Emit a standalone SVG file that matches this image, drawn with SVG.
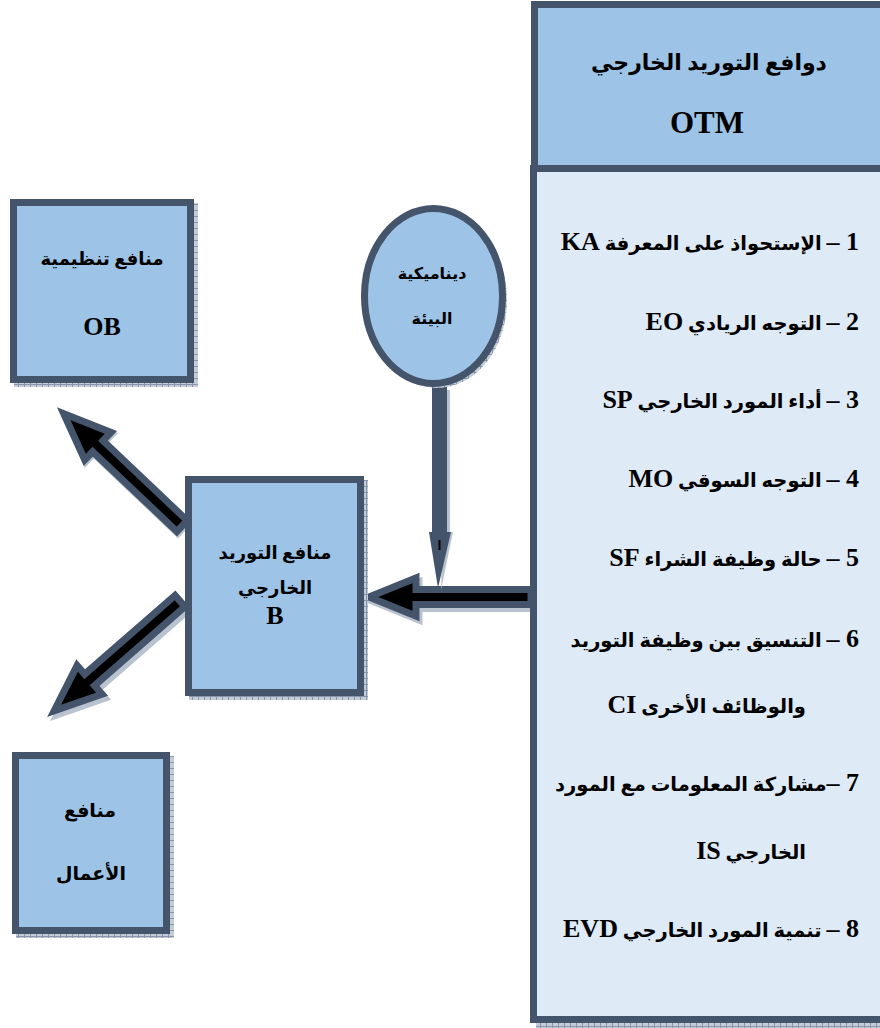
<svg xmlns="http://www.w3.org/2000/svg" width="880" height="1028" viewBox="0 0 880 1028">
<defs>
<pattern id="hatch" width="6" height="6" patternUnits="userSpaceOnUse">
<rect width="6" height="6" fill="#c3ccd8"/>
<path d="M0,0.5H6M0.5,0V6" stroke="#8796ab" stroke-width="1"/>
</pattern>
<style>
.box{fill:#9dc3e6;stroke:#44546a;stroke-width:7}
.body{fill:#deeaf6;stroke:#44546a;stroke-width:7}
.shadow{fill:url(#hatch)}
.arrow{fill:#000;stroke:#44546a;stroke-width:7;stroke-linejoin:miter}
.ashadow{fill:#b9c2cf;stroke:#b9c2cf;stroke-width:7}
text{font-family:"Liberation Serif","DejaVu Sans",serif;font-weight:bold;fill:#000}
.ar{direction:rtl}
.la{font-size:26px}
</style>
</defs>
<rect width="880" height="1028" fill="#fff"/>

<g id="connectors">
<path class="ashadow" transform="translate(534,601) rotate(180)" d="M0,-7.5L115,-7.5L115,-19L162,0L115,19L115,7.5L0,7.5Z"/>
<path class="arrow" transform="translate(531,597) rotate(180)" d="M0,-7.5L115,-7.5L115,-19L162,0L115,19L115,7.5L0,7.5Z"/>
<path class="ashadow" transform="translate(183,528) rotate(223.5)" d="M0,-7.5L116,-7.5L116,-19L163,0L116,19L116,7.5L0,7.5Z"/>
<path class="arrow" transform="translate(182,526) rotate(223.5)" d="M0,-7.5L116,-7.5L116,-19L163,0L116,19L116,7.5L0,7.5Z"/>
<path class="ashadow" transform="translate(183,605) rotate(138.9)" d="M0,-7.5L120,-7.5L120,-19L167,0L120,19L120,7.5L0,7.5Z"/>
<path class="arrow" transform="translate(180,601) rotate(138.9)" d="M0,-7.5L120,-7.5L120,-19L167,0L120,19L120,7.5L0,7.5Z"/>
<path fill="#b9c2cf" d="M447,390H450V532H453L441,590Z"/>
<path fill="#44546a" d="M432,380H447V532H451L438,588L429,532H432Z"/>
<path d="M439.5,540V550" stroke="#000" stroke-width="2"/>
</g>

<g id="otm">
<rect class="shadow" x="536" y="172" width="350" height="856"/>
<rect class="body" x="533.5" y="168.5" width="400" height="851"/>
<rect class="box" x="534.5" y="4.5" width="400" height="164"/>
<text x="709" y="70" font-size="22" text-anchor="middle" class="ar">دوافع التوريد الخارجي</text>
<text x="707" y="133" font-size="31" text-anchor="middle">OTM</text>
<g font-size="19.5">
<text class="ar" x="859" y="250" text-anchor="start"><tspan class="la">1 –</tspan> الإستحواذ على المعرفة <tspan class="la">KA</tspan></text>
<text class="ar" x="859" y="330" text-anchor="start"><tspan class="la">2 –</tspan> التوجه الريادي  <tspan class="la">EO</tspan></text>
<text class="ar" x="859" y="408" text-anchor="start"><tspan class="la">3 –</tspan> أداء المورد الخارجي <tspan class="la">SP</tspan></text>
<text class="ar" x="859" y="487" text-anchor="start"><tspan class="la">4 –</tspan> التوجه السوقي <tspan class="la">MO</tspan></text>
<text class="ar" x="859" y="566" text-anchor="start"><tspan class="la">5 –</tspan> حالة وظيفة الشراء <tspan class="la">SF</tspan></text>
<text class="ar" x="859" y="647" text-anchor="start"><tspan class="la">6 –</tspan> التنسيق بين وظيفة التوريد</text>
<text class="ar" x="806" y="713" text-anchor="start">والوظائف الأخرى <tspan class="la">CI</tspan></text>
<text class="ar" x="859" y="791" text-anchor="start"><tspan class="la">7 –</tspan>مشاركة المعلومات مع المورد</text>
<text class="ar" x="806" y="859" text-anchor="start">الخارجي <tspan class="la">IS</tspan></text>
<text class="ar" x="859" y="937" text-anchor="start"><tspan class="la">8 –</tspan> تنمية المورد الخارجي <tspan class="la">EVD</tspan></text>
</g>
</g>

<g id="ob">
<rect class="shadow" x="14" y="203" width="184" height="184"/>
<rect class="box" x="13.5" y="202.5" width="177" height="177"/>
<text class="ar" x="102" y="265" font-size="18" text-anchor="middle">منافع تنظيمية</text>
<text x="102" y="335" font-size="26" text-anchor="middle">OB</text>
</g>

<g id="business">
<rect class="shadow" x="16" y="756" width="158" height="182"/>
<rect class="box" x="15.5" y="755.5" width="151" height="175"/>
<text class="ar" x="90" y="817" font-size="19" text-anchor="middle">منافع</text>
<text class="ar" x="91" y="880" font-size="19" text-anchor="middle">الأعمال</text>
</g>

<g id="b">
<rect class="shadow" x="189" y="480" width="179" height="220"/>
<rect class="box" x="188.5" y="479.5" width="172" height="213"/>
<text class="ar" x="275" y="559" font-size="18" text-anchor="middle">منافع التوريد</text>
<text class="ar" x="275" y="594" font-size="18" text-anchor="middle">الخارجي</text>
<text x="275" y="624" font-size="26" text-anchor="middle">B</text>
</g>

<g id="env">
<ellipse cx="437" cy="300" rx="70" ry="88" fill="url(#hatch)"/>
<ellipse cx="433.5" cy="296" rx="69" ry="87.5" fill="#9dc3e6" stroke="#44546a" stroke-width="7"/>
<text class="ar" x="432" y="279" font-size="16" text-anchor="middle">ديناميكية</text>
<text class="ar" x="432" y="324" font-size="16" text-anchor="middle">البيئة</text>
</g>
</svg>
